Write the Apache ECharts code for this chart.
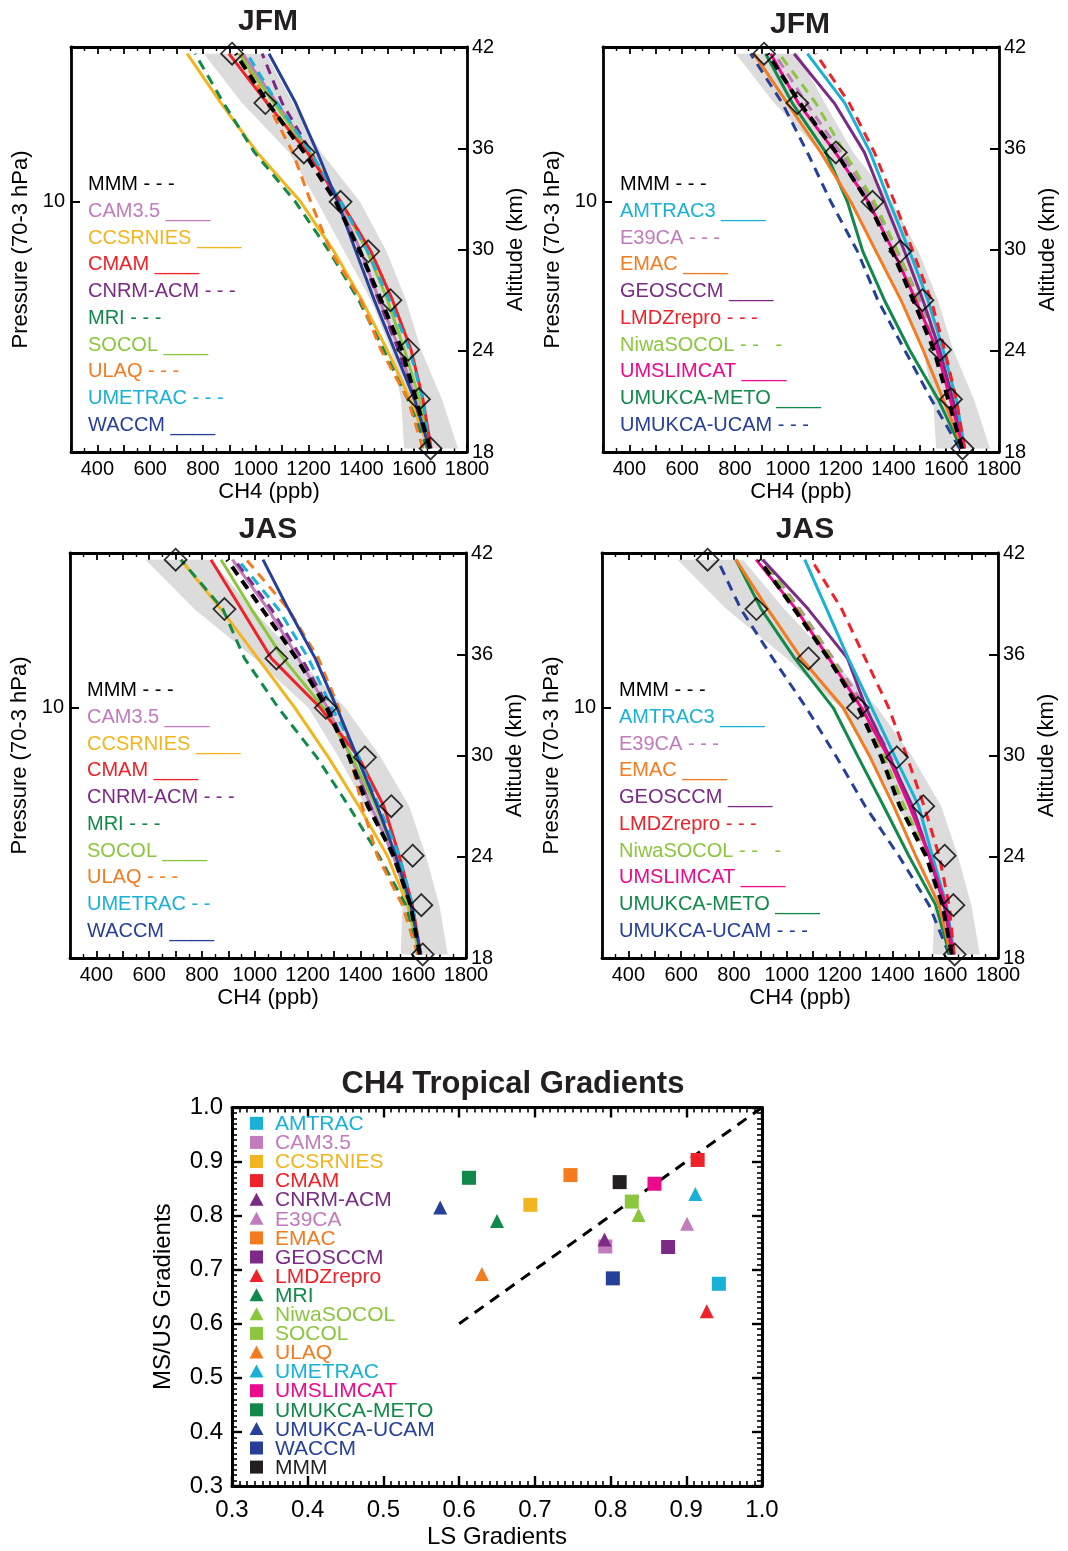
<!DOCTYPE html>
<html><head><meta charset="utf-8">
<script src="https://cdn.jsdelivr.net/npm/echarts@6/dist/echarts.min.js"></script>
<style>html,body{margin:0;padding:0;background:#fff}#c{width:1068px;height:1551px}</style>
</head><body><div id="c"></div>
<script>
// ---------- DATA ----------
// pressure levels (hPa), bottom -> top
const PLEV = [68.1, 46.4, 31.6, 21.5, 14.7, 10.0, 6.81, 4.64, 3.16];

// observations (diamonds) and their uncertainty band
const OBS_JFM = [1662, 1618, 1577, 1510, 1426, 1321, 1182, 1036, 910];
const BAND_JFM_LOW = [1562, 1550, 1512, 1436, 1335, 1233, 1126, 948, 803];
const BAND_JFM_HIGH = [1766, 1705, 1626, 1569, 1495, 1395, 1248, 1140, 1040];
const OBS_JAS = [1636, 1631, 1598, 1517, 1417, 1269, 1082, 885, 700];
const BAND_JAS_LOW = [1553, 1559, 1534, 1419, 1318, 1203, 1000, 771, 586];
const BAND_JAS_HIGH = [1731, 1699, 1648, 1585, 1477, 1343, 1165, 990, 834];

// multi-model mean
const MMM_JFM = [1660, 1607, 1553, 1475, 1395, 1303, 1183, 1046, 924];
const MMM_JAS = [1625, 1590, 1527, 1428, 1358, 1272, 1158, 1028, 895];

// JFM, model group A
const CAM35_JFM = [1660, 1605, 1545, 1468, 1398, 1312, 1205, 1080, 950];
const CCSRNIES_JFM = [1655, 1585, 1497, 1402, 1296, 1170, 1005, 868, 740];
const CMAM_JFM = [1664, 1633, 1588, 1518, 1436, 1322, 1195, 1043, 898];
const CNRM_JFM = [1655, 1600, 1540, 1465, 1395, 1305, 1210, 1100, 1024];
const MRI_JFM = [1650, 1575, 1484, 1390, 1278, 1150, 995, 878, 770];
const SOCOL_JFM = [1658, 1620, 1563, 1499, 1423, 1322, 1202, 1069, 936];
const ULAQ_JFM = [1633, 1576, 1474, 1398, 1284, 1208, 1140, 1043, 942];
const UMETRAC_JFM = [1658, 1633, 1582, 1506, 1423, 1322, 1208, 1081, 967];
const WACCM_JFM = [1658, 1601, 1525, 1449, 1379, 1310, 1233, 1151, 1050];

// JFM, model group B
const AMTRAC3_JFM = [1670, 1638, 1588, 1531, 1461, 1385, 1312, 1216, 1074];
const E39CA_JFM = [1665, 1620, 1575, 1500, 1415, 1320, 1200, 1070, 950];
const EMAC_JFM = [1664, 1588, 1512, 1429, 1334, 1239, 1125, 998, 872];
const GEOSCCM_JFM = [1664, 1625, 1575, 1512, 1442, 1366, 1290, 1176, 1024];
const LMDZ_JFM = [1670, 1638, 1594, 1543, 1474, 1404, 1328, 1233, 1106];
const NIWA_JFM = [1664, 1619, 1562, 1493, 1416, 1328, 1214, 1106, 967];
const UMSLIMCAT_JFM = [1665, 1615, 1565, 1485, 1400, 1305, 1180, 1040, 935];
const METO_JFM = [1657, 1569, 1461, 1366, 1284, 1226, 1144, 1017, 916];
const UCAM_JFM = [1651, 1543, 1442, 1341, 1264, 1163, 1074, 979, 859];

// JAS, model group A
const CAM35_JAS = [1625, 1588, 1525, 1440, 1365, 1275, 1165, 1050, 915];
const CCSRNIES_JAS = [1623, 1578, 1502, 1394, 1279, 1152, 1012, 872, 720];
const CMAM_JAS = [1629, 1597, 1547, 1489, 1394, 1248, 1063, 949, 834];
const CNRM_JAS = [1626, 1591, 1521, 1438, 1362, 1280, 1178, 1063, 923];
const MRI_JAS = [1623, 1572, 1470, 1356, 1235, 1089, 961, 879, 720];
const SOCOL_JAS = [1623, 1585, 1534, 1458, 1369, 1260, 1108, 987, 872];
const ULAQ_JAS = [1617, 1559, 1464, 1407, 1362, 1318, 1241, 1127, 968];
const UMETRAC_JAS = [1626, 1597, 1547, 1470, 1394, 1292, 1203, 1089, 936];
const WACCM_JAS = [1629, 1591, 1534, 1464, 1388, 1311, 1229, 1127, 1031];

// JAS, model group B
const AMTRAC3_JAS = [1634, 1605, 1551, 1500, 1411, 1322, 1233, 1151, 1068];
const E39CA_JAS = [1632, 1605, 1545, 1470, 1395, 1300, 1175, 1050, 910];
const EMAC_JAS = [1621, 1577, 1488, 1405, 1316, 1214, 1055, 928, 807];
const GEOSCCM_JAS = [1628, 1596, 1539, 1476, 1390, 1300, 1230, 1081, 909];
const LMDZ_JAS = [1634, 1615, 1577, 1520, 1456, 1386, 1297, 1208, 1093];
const NIWA_JAS = [1630, 1600, 1535, 1445, 1370, 1285, 1170, 1045, 905];
const UMSLIMCAT_JAS = [1630, 1602, 1540, 1465, 1385, 1283, 1160, 1035, 884];
const METO_JAS = [1617, 1564, 1462, 1367, 1271, 1176, 1030, 903, 807];
const UCAM_JAS = [1615, 1539, 1424, 1297, 1189, 1074, 947, 826, 737];

// axis ranges
const CH4_MIN = 300, CH4_MAX = 1800;
const P_TOP = 3, P_BOTTOM = 70;
const ALT_MIN = 18, ALT_MAX = 42;

// legend texts inside the profile panels
const LEG_A = ['MMM - - -', 'CAM3.5 ____', 'CCSRNIES ____', 'CMAM ____', 'CNRM-ACM - - -', 'MRI - - -', 'SOCOL ____', 'ULAQ - - -', 'UMETRAC - - -', 'WACCM ____'];
const LEG_A_JAS = ['MMM - - -', 'CAM3.5 ____', 'CCSRNIES ____', 'CMAM ____', 'CNRM-ACM - - -', 'MRI - - -', 'SOCOL ____', 'ULAQ - - -', 'UMETRAC - -', 'WACCM ____'];
const LEG_B = ['MMM - - -', 'AMTRAC3 ____', 'E39CA - - -', 'EMAC ____', 'GEOSCCM ____', 'LMDZrepro - - -', 'NiwaSOCOL - -   -', 'UMSLIMCAT ____', 'UMUKCA-METO ____', 'UMUKCA-UCAM - - -'];

// scatter: CH4 tropical gradients
const SC_NAMES = ['AMTRAC', 'CAM3.5', 'CCSRNIES', 'CMAM', 'CNRM-ACM', 'E39CA', 'EMAC', 'GEOSCCM', 'LMDZrepro', 'MRI', 'NiwaSOCOL', 'SOCOL', 'ULAQ', 'UMETRAC', 'UMSLIMCAT', 'UMUKCA-METO', 'UMUKCA-UCAM', 'WACCM', 'MMM'];
const SC_LS = [0.943, 0.793, 0.694, 0.915, 0.792, 0.901, 0.747, 0.876, 0.927, 0.650, 0.837, 0.828, 0.630, 0.912, 0.858, 0.613, 0.575, 0.803, 0.812];
const SC_MSUS = [0.674, 0.743, 0.820, 0.903, 0.756, 0.785, 0.875, 0.742, 0.623, 0.790, 0.801, 0.826, 0.692, 0.840, 0.859, 0.870, 0.815, 0.684, 0.862];
const SC_SHAPE = ['rect', 'rect', 'rect', 'rect', 'triangle', 'triangle', 'rect', 'rect', 'triangle', 'triangle', 'triangle', 'rect', 'triangle', 'triangle', 'rect', 'rect', 'triangle', 'rect', 'rect'];
const ONE_TO_ONE = [0.6, 1.0];

// ---------- STYLE ----------
const C = {
  MMM: '#000000', CAM: '#c27bbd', CCSR: '#f2b51f', CMAM: '#ee2228', CNRM: '#7b2a86', MRI: '#11894a',
  SOCOL: '#8cc63f', ULAQ: '#f47b20', UMETRAC: '#19b1d6', WACCM: '#26409a', MAG: '#ec0a8c'
};
const SC_COLORS = [C.UMETRAC, C.CAM, C.CCSR, C.CMAM, C.CNRM, C.CAM, C.ULAQ, C.CNRM, C.CMAM, C.MRI, C.SOCOL, C.SOCOL, C.ULAQ, C.UMETRAC, C.MAG, C.MRI, C.WACCM, C.WACCM, '#231f20'];
const FONT = '"Liberation Sans", Arial, Helvetica, sans-serif';
const BAND_COLOR = '#dcdcdc';
const LW = 3;

const groupA_JFM = [
  {d: CAM35_JFM, c: C.CAM, dash: false}, {d: CCSRNIES_JFM, c: C.CCSR, dash: false}, {d: MRI_JFM, c: C.MRI, dash: true},
  {d: ULAQ_JFM, c: C.ULAQ, dash: true}, {d: CNRM_JFM, c: C.CNRM, dash: true}, {d: SOCOL_JFM, c: C.SOCOL, dash: false},
  {d: CMAM_JFM, c: C.CMAM, dash: false}, {d: UMETRAC_JFM, c: C.UMETRAC, dash: true}, {d: WACCM_JFM, c: C.WACCM, dash: false}
];
const groupB_JFM = [
  {d: UCAM_JFM, c: C.WACCM, dash: true}, {d: METO_JFM, c: C.MRI, dash: false}, {d: EMAC_JFM, c: C.ULAQ, dash: false},
  {d: E39CA_JFM, c: C.CAM, dash: true}, {d: NIWA_JFM, c: C.SOCOL, dash: true}, {d: GEOSCCM_JFM, c: C.CNRM, dash: false},
  {d: AMTRAC3_JFM, c: C.UMETRAC, dash: false}, {d: LMDZ_JFM, c: C.CMAM, dash: true}, {d: UMSLIMCAT_JFM, c: C.MAG, dash: false}
];
const groupA_JAS = [
  {d: CAM35_JAS, c: C.CAM, dash: false}, {d: CCSRNIES_JAS, c: C.CCSR, dash: false}, {d: MRI_JAS, c: C.MRI, dash: true},
  {d: ULAQ_JAS, c: C.ULAQ, dash: true}, {d: CNRM_JAS, c: C.CNRM, dash: true}, {d: SOCOL_JAS, c: C.SOCOL, dash: false},
  {d: CMAM_JAS, c: C.CMAM, dash: false}, {d: UMETRAC_JAS, c: C.UMETRAC, dash: true}, {d: WACCM_JAS, c: C.WACCM, dash: false}
];
const groupB_JAS = [
  {d: UCAM_JAS, c: C.WACCM, dash: true}, {d: METO_JAS, c: C.MRI, dash: false}, {d: EMAC_JAS, c: C.ULAQ, dash: false},
  {d: E39CA_JAS, c: C.CAM, dash: true}, {d: NIWA_JAS, c: C.SOCOL, dash: true}, {d: GEOSCCM_JAS, c: C.CNRM, dash: false},
  {d: AMTRAC3_JAS, c: C.UMETRAC, dash: false}, {d: LMDZ_JAS, c: C.CMAM, dash: true}, {d: UMSLIMCAT_JAS, c: C.MAG, dash: false}
];
const LEG_COLORS_A = [C.MMM, C.CAM, C.CCSR, C.CMAM, C.CNRM, C.MRI, C.SOCOL, C.ULAQ, C.UMETRAC, C.WACCM];
const LEG_COLORS_B = [C.MMM, C.UMETRAC, C.CAM, C.ULAQ, C.CNRM, C.CMAM, C.SOCOL, C.MAG, C.MRI, C.WACCM];

const panels = [
  {left: 71, top: 47, title: 'JFM', tx: 268, ty: 22, obs: OBS_JFM, lo: BAND_JFM_LOW, hi: BAND_JFM_HIGH, mmm: MMM_JFM, models: groupA_JFM, leg: LEG_A, legC: LEG_COLORS_A},
  {left: 603, top: 47, title: 'JFM', tx: 800, ty: 25, obs: OBS_JFM, lo: BAND_JFM_LOW, hi: BAND_JFM_HIGH, mmm: MMM_JFM, models: groupB_JFM, leg: LEG_B, legC: LEG_COLORS_B},
  {left: 70, top: 553, title: 'JAS', tx: 268, ty: 530, obs: OBS_JAS, lo: BAND_JAS_LOW, hi: BAND_JAS_HIGH, mmm: MMM_JAS, models: groupA_JAS, leg: LEG_A_JAS, legC: LEG_COLORS_A},
  {left: 602, top: 553, title: 'JAS', tx: 805, ty: 530, obs: OBS_JAS, lo: BAND_JAS_LOW, hi: BAND_JAS_HIGH, mmm: MMM_JAS, models: groupB_JAS, leg: LEG_B, legC: LEG_COLORS_B}
];

const W = 396, H = 405;
const axisLine = {show: true, onZero: false, lineStyle: {color: '#000', width: 2.8}};
const grids = [], xAxes = [], yAxes = [], series = [], graphics = [];

panels.forEach((p, g) => {
  grids.push({left: p.left, top: p.top, width: W, height: H, containLabel: false});
  const xBase = {
    gridIndex: g, type: 'value', min: CH4_MIN, max: CH4_MAX, interval: 100,
    axisLine, splitLine: {show: false},
    axisTick: {inside: true, length: 7, lineStyle: {color: '#000', width: 1.8}},
    minorTick: {show: true, splitNumber: 2, length: 4, lineStyle: {color: '#000', width: 1.4}}
  };
  xAxes.push(Object.assign({}, xBase, {
    position: 'bottom',
    axisLabel: {margin: 7, fontSize: 20, color: '#000', fontFamily: FONT,
      formatter: v => (v >= 400 && v % 200 === 0) ? String(v) : ''},
    name: 'CH4 (ppb)', nameLocation: 'middle', nameGap: 29,
    nameTextStyle: {fontSize: 22, color: '#000', fontFamily: FONT}
  }));
  xAxes.push(Object.assign({}, xBase, {position: 'top', axisLabel: {show: false}}));
  yAxes.push({
    gridIndex: g, type: 'log', logBase: 10, min: P_TOP, max: P_BOTTOM, inverse: true, position: 'left',
    axisLine, splitLine: {show: false},
    axisTick: {inside: true, length: 9, lineStyle: {color: '#000', width: 2}},
    axisLabel: {showMinLabel: false, showMaxLabel: false, margin: 6, fontSize: 20, color: '#000', fontFamily: FONT},
    name: 'Pressure (70-3 hPa)', nameLocation: 'middle', nameGap: 39,
    nameTextStyle: {fontSize: 22, color: '#000', fontFamily: FONT}
  });
  yAxes.push({
    gridIndex: g, type: 'value', min: ALT_MIN, max: ALT_MAX, interval: 6, position: 'right',
    axisLine, splitLine: {show: false},
    axisTick: {inside: true, length: 9, lineStyle: {color: '#000', width: 2}},
    axisLabel: {margin: 5, fontSize: 20, color: '#000', fontFamily: FONT},
    name: 'Altitude (km)', nameLocation: 'middle', nameGap: 38,
    nameTextStyle: {fontSize: 22, color: '#000', fontFamily: FONT}
  });
  const lo = p.lo, hi = p.hi;
  series.push({
    type: 'custom', xAxisIndex: 2 * g, yAxisIndex: 2 * g, silent: true, z: 1,
    data: [[1000, 10]],
    renderItem: (params, api) => {
      const pts = [];
      for (let i = 0; i < PLEV.length; i++) pts.push(api.coord([lo[i], PLEV[i]]));
      for (let i = PLEV.length - 1; i >= 0; i--) pts.push(api.coord([hi[i], PLEV[i]]));
      return {type: 'polygon', shape: {points: pts}, style: {fill: BAND_COLOR}};
    }
  });
  p.models.forEach((m, k) => {
    series.push({
      type: 'line', xAxisIndex: 2 * g, yAxisIndex: 2 * g, silent: true, z: 3 + k * 0.01,
      symbol: 'none', showSymbol: false,
      data: m.d.map((v, i) => [v, PLEV[i]]),
      lineStyle: {color: m.c, width: LW, type: m.dash ? [10, 7] : 'solid'}
    });
  });
  series.push({
    type: 'line', xAxisIndex: 2 * g, yAxisIndex: 2 * g, silent: true, z: 4,
    symbol: 'none', showSymbol: false,
    data: p.mmm.map((v, i) => [v, PLEV[i]]),
    lineStyle: {color: '#000', width: 4, type: [10, 7]}
  });
  series.push({
    type: 'scatter', xAxisIndex: 2 * g, yAxisIndex: 2 * g, silent: true, z: 5,
    symbol: 'diamond', symbolSize: 22,
    data: p.obs.map((v, i) => [v, PLEV[i]]),
    itemStyle: {color: 'rgba(0,0,0,0)', borderColor: '#000', borderWidth: 1.8}
  });
  graphics.push({type: 'text', x: p.tx, y: p.ty, z: 10,
    style: {text: p.title, fontSize: 30, fontWeight: 'bold', fontFamily: FONT, fill: '#231f20', align: 'center', verticalAlign: 'middle'}});
  p.leg.forEach((t, i) => {
    graphics.push({type: 'text', x: p.left + 17, y: p.top + 137.5 + i * 26.75, z: 10,
      style: {text: t, fontSize: 20, fontFamily: FONT, fill: p.legC[i], align: 'left', verticalAlign: 'middle'}});
  });
});

// ---------- scatter panel ----------
const SG = 4;
grids.push({left: 232, top: 1107.5, width: 530, height: 378.5, containLabel: false});
const scBase = {
  gridIndex: SG, type: 'value', min: 0.3, max: 1.0, interval: 0.1,
  axisLine: {show: true, onZero: false, lineStyle: {color: '#000', width: 3}}, splitLine: {show: false},
  axisTick: {inside: true, length: 10, lineStyle: {color: '#000', width: 2.4}},
  minorTick: {show: true, splitNumber: 10, length: 5, lineStyle: {color: '#000', width: 1.6}}
};
xAxes.push(Object.assign({}, scBase, {
  position: 'bottom',
  axisLabel: {margin: 12, fontSize: 24, color: '#000', fontFamily: FONT, formatter: v => v.toFixed(1)},
  name: 'LS Gradients', nameLocation: 'middle', nameGap: 39,
  nameTextStyle: {fontSize: 24, color: '#000', fontFamily: FONT}
}));
xAxes.push(Object.assign({}, scBase, {position: 'top', axisLabel: {show: false}}));
yAxes.push(Object.assign({}, scBase, {
  position: 'left',
  axisLabel: {margin: 9, fontSize: 24, color: '#000', fontFamily: FONT, formatter: v => v.toFixed(1)},
  name: 'MS/US Gradients', nameLocation: 'middle', nameGap: 57,
  nameTextStyle: {fontSize: 24, color: '#000', fontFamily: FONT}
}));
yAxes.push(Object.assign({}, scBase, {position: 'right', axisLabel: {show: false}}));

series.push({
  type: 'line', xAxisIndex: 8, yAxisIndex: 8, silent: true, z: 3, symbol: 'none',
  data: ONE_TO_ONE.map(v => [v, v]),
  lineStyle: {color: '#000', width: 3, type: [11, 8]}
});
SC_NAMES.forEach((n, i) => {
  series.push({
    type: 'scatter', name: n, xAxisIndex: 8, yAxisIndex: 8, silent: true, z: 4,
    symbol: SC_SHAPE[i], symbolSize: 14,
    data: [[SC_LS[i], SC_MSUS[i]]],
    itemStyle: {color: SC_COLORS[i], opacity: 1}
  });
  const cy = 1123.3 + i * 19.1, cx = 256.5;
  if (SC_SHAPE[i] === 'rect') {
    graphics.push({type: 'rect', z: 10, shape: {x: cx - 6.5, y: cy - 6.5, width: 13, height: 13}, style: {fill: SC_COLORS[i]}});
  } else {
    graphics.push({type: 'polygon', z: 10, shape: {points: [[cx, cy - 7], [cx + 7, cy + 6], [cx - 7, cy + 6]]}, style: {fill: SC_COLORS[i]}});
  }
  graphics.push({type: 'text', x: 275, y: cy + 1, z: 10,
    style: {text: n, fontSize: 21, fontFamily: FONT, fill: SC_COLORS[i], align: 'left', verticalAlign: 'middle'}});
});
graphics.push({type: 'text', x: 513, y: 1084, z: 10,
  style: {text: 'CH4 Tropical Gradients', fontSize: 31, fontWeight: 'bold', fontFamily: FONT, fill: '#231f20', align: 'center', verticalAlign: 'middle'}});

const chart = echarts.init(document.getElementById('c'), null, {renderer: 'canvas'});
chart.setOption({
  animation: false,
  backgroundColor: '#fff',
  grid: grids, xAxis: xAxes, yAxis: yAxes, series, graphic: graphics
});
</script>
</body></html>
